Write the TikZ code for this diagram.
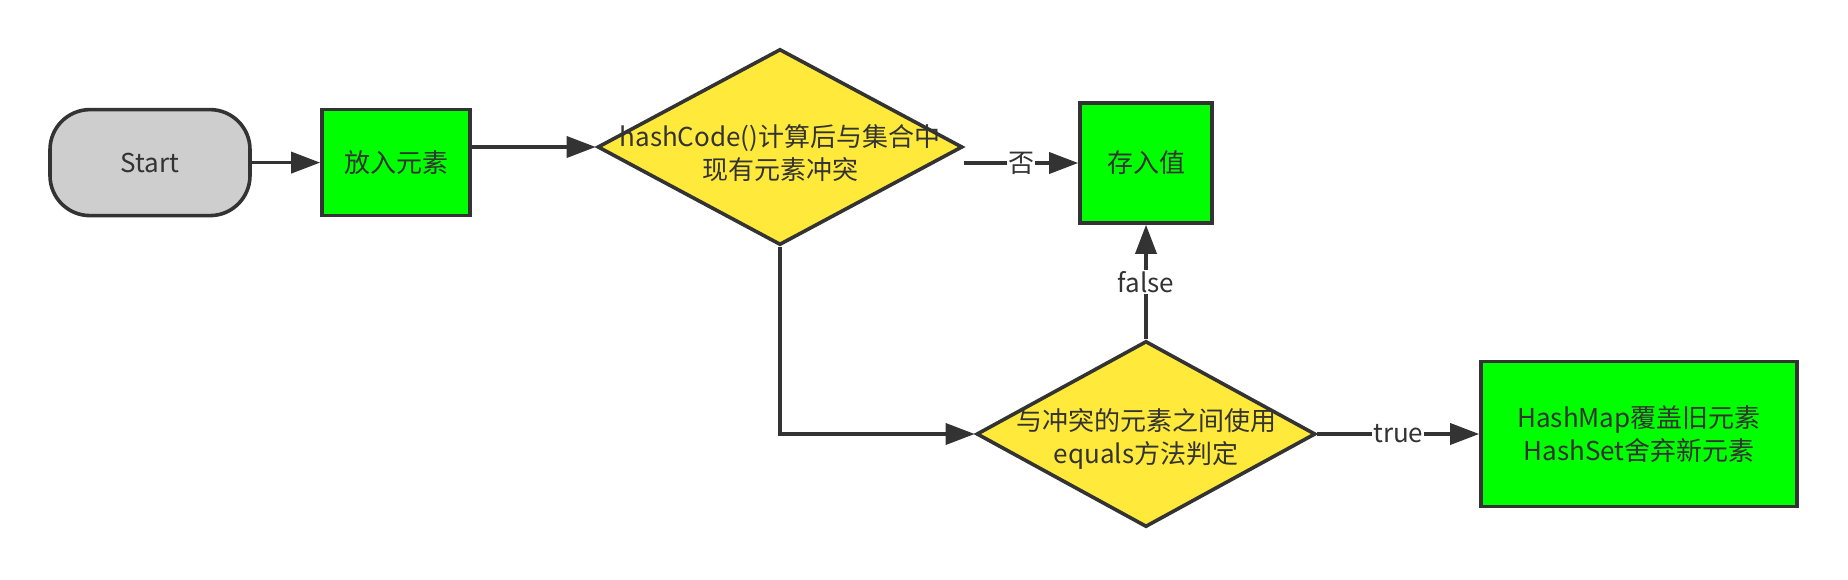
\documentclass[tikz,border=0pt]{standalone}
\usepackage{fontspec}
\setmainfont{Noto Sans CJK SC}
\usetikzlibrary{arrows.meta,shapes.geometric}
\definecolor{ln}{HTML}{333333}
\definecolor{grayf}{HTML}{CECECE}
\definecolor{greenf}{HTML}{00FF00}
\definecolor{yelf}{HTML}{FFE93B}
\tikzset{
  base/.style={draw=ln, line width=3.6pt, text=ln, font=\fontsize{26}{33}\selectfont, inner sep=0pt, align=center},
  term/.style={base, fill=grayf, rounded corners=40pt, minimum width=200pt, minimum height=106pt},
  proc/.style={base, fill=greenf},
  dia/.style={base, diamond, fill=yelf},
  txt/.style={text=ln, font=\fontsize{26}{33}\selectfont, align=center, inner sep=0pt},
  conn/.style={draw=ln, line width=3.6pt, -{Triangle[length=29pt,width=21pt]}},
  lbl/.style={fill=white, text=ln, font=\fontsize{26}{30}\selectfont, inner sep=1pt}
}
\begin{document}
\begin{tikzpicture}[x=1pt,y=-1pt]
\useasboundingbox[fill=white] (0,0) rectangle (1848,579);
\node[term] (start) at (150,162.6) {Start};
\node[proc, minimum width=148pt, minimum height=106pt] (b1) at (396,162.6) {放入元素};
\node[dia, minimum width=365pt, minimum height=196pt] (d1) at (780,147) {};
\node[txt] (t1) at (780,153) {hashCode()计算后与集合中\\现有元素冲突};
\node[proc, minimum width=132pt, minimum height=120pt] (s) at (1146,163) {存入值};
\node[dia, minimum width=339pt, minimum height=186pt] (d2) at (1146,434) {};
\node[txt] (t2) at (1146,439) {与冲突的元素之间使用\\equals方法判定};
\node[proc, minimum width=316pt, minimum height=145pt] (h) at (1639,434) {HashMap覆盖旧元素\\HashSet舍弃新元素};
\coordinate (c1) at (d1.south |- d2.west);
\draw[conn] (start) -- (b1);
\draw[conn] (d1.west -| b1.east) -- (d1.west);
\draw[conn] (d1.east |- s.west) -- node[lbl] {否} (s.west);
\draw[conn] (d1.south) -- (c1) -- (d2.west);
\draw[conn] (d2.north) -- node[lbl] {false} (s.south);
\draw[conn] (d2.east) -- node[lbl] {true} (h.west);
\end{tikzpicture}
\end{document}
